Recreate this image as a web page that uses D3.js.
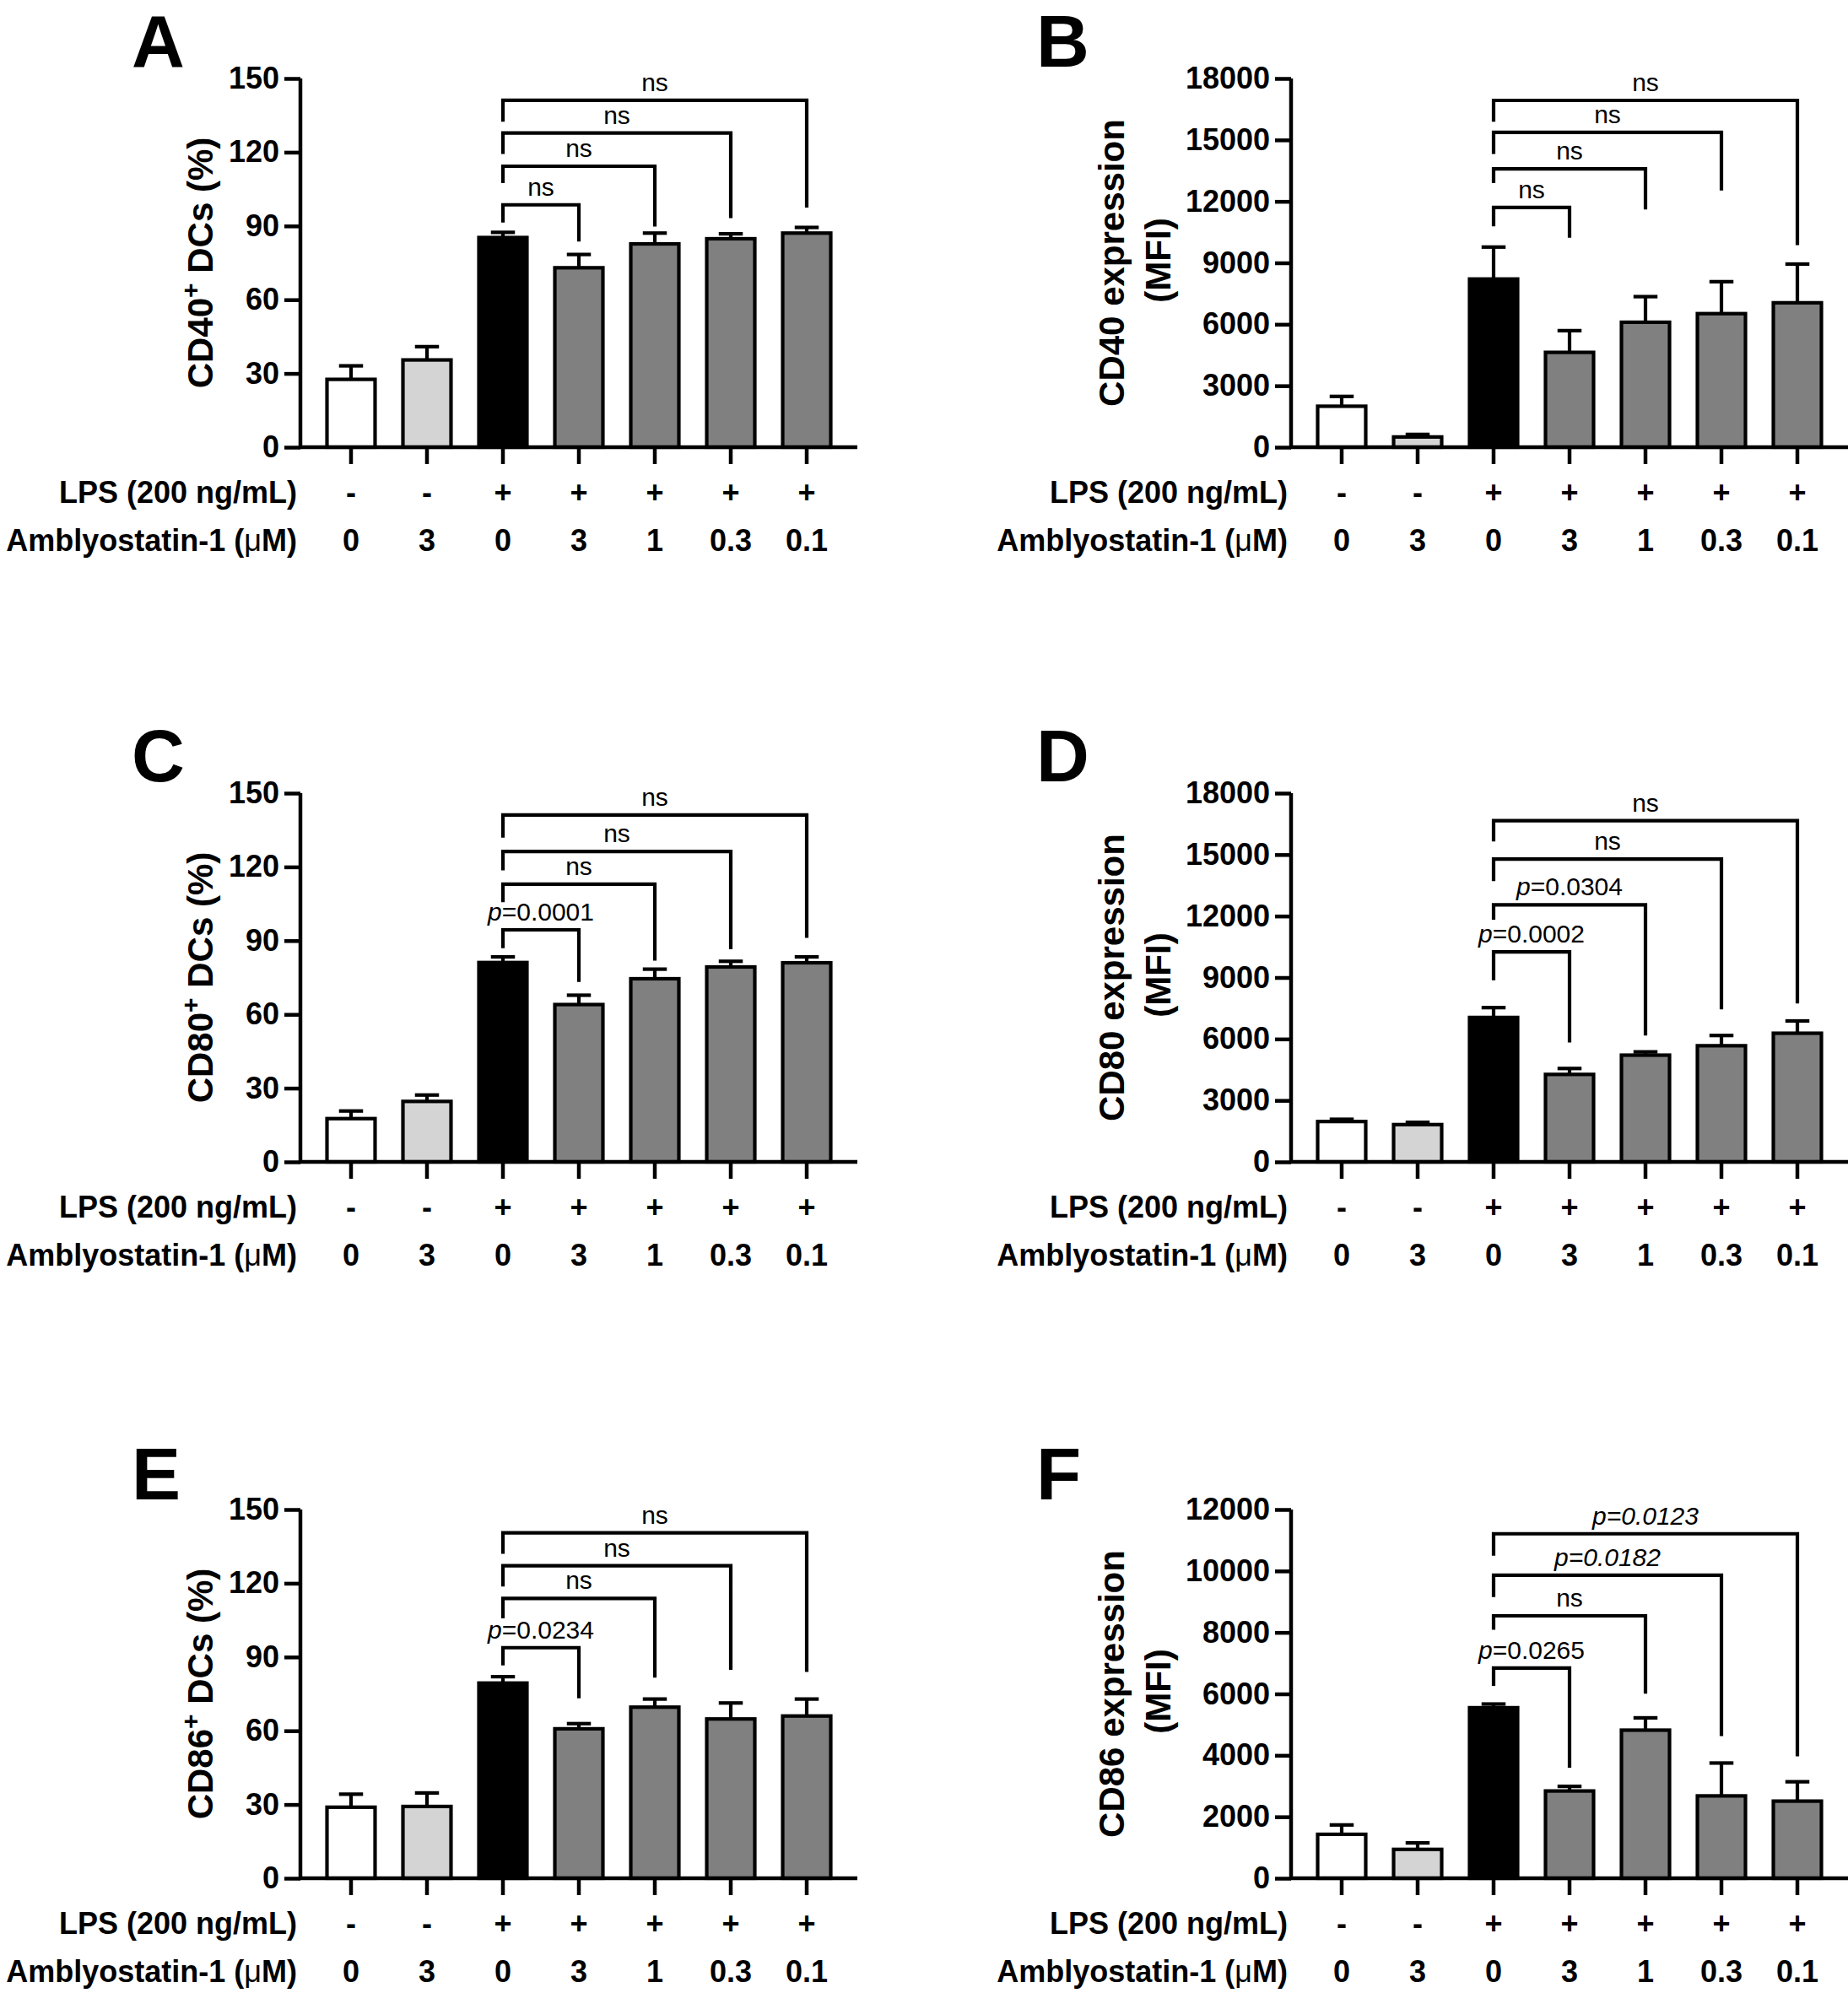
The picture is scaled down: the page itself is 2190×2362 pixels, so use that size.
<!DOCTYPE html>
<html>
<head>
<meta charset="utf-8">
<script src="https://cdn.jsdelivr.net/npm/d3@7/dist/d3.min.js"></script>
<style>
  body { margin: 0; background: #fff; }
  svg { display: block; }
</style>
</head>
<body>
<script>
// x groups (same for every panel)
const groups = ["g1", "g2", "g3", "g4", "g5", "g6", "g7"];
const lpsLabels = ["-", "-", "+", "+", "+", "+", "+"];
const amblyLabels = ["0", "3", "0", "3", "1", "0.3", "0.1"];
const barFills = ["#ffffff", "#d4d4d4", "#000000", "#808080", "#808080", "#808080", "#808080"];

// y ticks
const pctTicks = [0, 30, 60, 90, 120, 150];
const mfiTicks18 = [0, 3000, 6000, 9000, 12000, 15000, 18000];
const mfiTicks12 = [0, 2000, 4000, 6000, 8000, 10000, 12000];

// A: CD40+ DCs (%)
const cd40PctMean = [27.6, 35.5, 85.3, 73.0, 82.7, 84.8, 87.1];
const cd40PctErr = [33.1, 40.9, 87.4, 78.4, 87.1, 86.8, 89.4];
// B: CD40 MFI
const cd40MfiMean = [2000, 500, 8210, 4630, 6100, 6520, 7050];
const cd40MfiErr = [2480, 625, 9770, 5690, 7350, 8080, 8940];
// C: CD80+ DCs (%)
const cd80PctMean = [17.6, 24.6, 81.1, 64.0, 74.5, 79.3, 81.0];
const cd80PctErr = [20.7, 27.2, 83.4, 67.8, 78.4, 81.6, 83.4];
// D: CD80 MFI
const cd80MfiMean = [1970, 1820, 7050, 4270, 5210, 5670, 6280];
const cd80MfiErr = [2080, 1930, 7530, 4560, 5370, 6170, 6880];
// E: CD86+ DCs (%)
const cd86PctMean = [28.9, 29.2, 79.4, 60.8, 69.6, 64.8, 66.0];
const cd86PctErr = [34.2, 34.7, 82.0, 62.9, 72.9, 71.3, 72.9];
// F: CD86 MFI
const cd86MfiMean = [1430, 940, 5550, 2840, 4820, 2680, 2510];
const cd86MfiErr = [1735, 1150, 5670, 2990, 5220, 3750, 3140];

// comparison brackets vs group 3: [bracket y, left leg end, right leg end]
const bracketTargets = [3, 4, 5, 6];
const cd40PctBrackets = [[98.6, 91.4, 83.7], [114.3, 107.4, 89.8], [127.8, 119.3, 93.2], [141.1, 132.4, 97.5]];
const cd40MfiBrackets = [[11700, 10780, 10230], [13590, 12890, 11610], [15370, 14310, 12530], [16930, 15890, 9860]];
const cd80PctBrackets = [[94.4, 86.9, 73.2], [113.0, 105.6, 81.9], [126.3, 118.6, 86.5], [141.1, 131.9, 91.1]];
const cd80MfiBrackets = [[10250, 8870, 5830], [12550, 11820, 6170], [14780, 13710, 7450], [16660, 15640, 7730]];
const cd86PctBrackets = [[93.8, 86.6, 73.2], [113.8, 105.7, 81.6], [127.1, 118.7, 84.8], [140.5, 132.0, 83.9]];
const cd86MfiBrackets = [[6840, 6260, 3600], [8540, 8090, 6010], [9860, 9150, 4630], [11210, 10500, 3970]];

const cd40PctLabels = ["ns", "ns", "ns", "ns"];
const cd40MfiLabels = ["ns", "ns", "ns", "ns"];
const cd80PctLabels = ["p=0.0001", "ns", "ns", "ns"];
const cd80MfiLabels = ["p=0.0002", "p=0.0304", "ns", "ns"];
const cd86PctLabels = ["p=0.0234", "ns", "ns", "ns"];
const cd86MfiLabels = ["p=0.0265", "ns", "p=0.0182", "p=0.0123"];
const cd86MfiAllItalic = [false, false, true, true];

const W = 2190, H = 2362;
const font = "'Liberation Sans', Arial, Helvetica, sans-serif";

const svg = d3.select("body").append("svg")
  .attr("width", W)
  .attr("height", H)
  .style("font-family", font);

const colX = [356, 1530];
const rowY = [0, 847, 1696];
const plotW = 660, plotTop = 93, plotZero = 530;

function drawPanel(p) {
  const x0 = colX[p.col], oy = rowY[p.row];
  const g = svg.append("g");

  const x = d3.scaleBand().domain(groups).range([x0, x0 + plotW])
    .paddingInner(0.367).paddingOuter(0.35);
  const y = d3.scaleLinear().domain([0, p.max]).range([plotZero + oy, plotTop + oy]);
  const bw = x.bandwidth();
  const cx = i => x(groups[i]) + bw / 2;

  // panel letter
  g.append("text")
    .attr("x", p.col === 0 ? 156 : 1228)
    .attr("y", 79 + oy + (p.row === 2 ? 2 : 0))
    .attr("font-size", 87).attr("font-weight", "bold")
    .text(p.letter);

  // bars
  g.selectAll("rect.bar").data(p.mean).join("rect")
    .attr("class", "bar")
    .attr("x", (d, i) => x(groups[i]))
    .attr("y", d => y(d))
    .attr("width", bw)
    .attr("height", d => y(0) - y(d))
    .attr("fill", (d, i) => barFills[i])
    .attr("stroke", "#000").attr("stroke-width", 4.2);

  // error bars (upper only)
  const capW = bw * 0.5;
  g.selectAll("line.err").data(p.err).join("line")
    .attr("class", "err")
    .attr("x1", (d, i) => cx(i)).attr("x2", (d, i) => cx(i))
    .attr("y1", (d, i) => y(p.mean[i])).attr("y2", d => y(d))
    .attr("stroke", "#000").attr("stroke-width", 4.2);
  g.selectAll("line.cap").data(p.err).join("line")
    .attr("class", "cap")
    .attr("x1", (d, i) => cx(i) - capW / 2).attr("x2", (d, i) => cx(i) + capW / 2)
    .attr("y1", d => y(d)).attr("y2", d => y(d))
    .attr("stroke", "#000").attr("stroke-width", 4.2);

  // axes
  const yAxis = g.append("g")
    .attr("transform", `translate(${x0},0)`)
    .call(d3.axisLeft(y).tickValues(p.ticks).tickFormat(d3.format("d"))
      .tickSize(19).tickSizeOuter(0).tickPadding(6));
  const xAxis = g.append("g")
    .attr("transform", `translate(0,${y(0)})`)
    .call(d3.axisBottom(x).tickSize(20).tickSizeOuter(0).tickFormat(""));
  [yAxis, xAxis].forEach(a => {
    a.selectAll("path, line").attr("stroke", "#000").attr("stroke-width", 4.5);
    a.selectAll("text").attr("font-size", 36).attr("font-weight", "bold")
      .attr("font-family", font).attr("fill", "#000");
  });
  yAxis.select("path.domain").attr("d", `M0,${y(p.max)}V${y(0)}`);
  xAxis.select("path.domain").attr("d", `M${x0 - 2},0H${x0 + plotW}`);

  // y label
  const midY = (plotTop + plotZero) / 2 + oy;
  const lab = g.append("text")
    .attr("transform", `translate(${p.col === 0 ? x0 - 104 : x0 - 198},${midY}) rotate(-90)`)
    .attr("text-anchor", "middle")
    .attr("font-size", 42).attr("font-weight", "bold");
  if (p.sup) {
    lab.append("tspan").text(p.yLabel[0]);
    lab.append("tspan").attr("dy", -16).attr("font-size", 30).text("+");
    lab.append("tspan").attr("dy", 16).text(p.yLabel[1]);
  } else {
    lab.text(p.yLabel[0]);
    g.append("text")
      .attr("transform", `translate(${x0 - 143},${midY - 3}) rotate(-90)`)
      .attr("text-anchor", "middle")
      .attr("font-size", 42).attr("font-weight", "bold")
      .text(p.yLabel[1]);
  }

  // condition rows
  const rowBase1 = y(0) + 66, rowBase2 = y(0) + 123;
  g.append("text").attr("x", x0 - 4).attr("y", rowBase1)
    .attr("text-anchor", "end").attr("font-size", 36).attr("font-weight", "bold")
    .text("LPS (200 ng/mL)");
  const amb = g.append("text").attr("x", x0 - 4).attr("y", rowBase2)
    .attr("text-anchor", "end").attr("font-size", 36).attr("font-weight", "bold");
  amb.append("tspan").text("Amblyostatin-1 (");
  amb.append("tspan").attr("font-weight", "normal").text("\u03BC");
  amb.append("tspan").text("M)");
  g.selectAll("text.lps").data(lpsLabels).join("text")
    .attr("class", "lps")
    .attr("x", (d, i) => cx(i)).attr("y", rowBase1)
    .attr("text-anchor", "middle").attr("font-size", 36).attr("font-weight", "bold")
    .text(d => d);
  g.selectAll("text.amb").data(amblyLabels).join("text")
    .attr("class", "amb")
    .attr("x", (d, i) => cx(i)).attr("y", rowBase2)
    .attr("text-anchor", "middle").attr("font-size", 36).attr("font-weight", "bold")
    .text(d => d);

  // significance brackets
  const xs = cx(2);
  p.brackets.forEach((b, k) => {
    const xt = cx(bracketTargets[k]);
    g.append("path")
      .attr("d", `M${xs},${y(b[1])}V${y(b[0])}H${xt}V${y(b[2])}`)
      .attr("fill", "none").attr("stroke", "#000").attr("stroke-width", 4.2);
    const t = g.append("text")
      .attr("x", (xs + xt) / 2).attr("y", y(b[0]) - 11)
      .attr("text-anchor", "middle").attr("font-size", 30);
    const s = p.labels[k];
    if (s === "ns") {
      t.text(s);
    } else if (p.allItalic && p.allItalic[k]) {
      t.attr("font-style", "italic").text(s);
    } else {
      t.append("tspan").attr("font-style", "italic").text(s.slice(0, 1));
      t.append("tspan").text(s.slice(1));
    }
  });
}

drawPanel({ letter: "A", col: 0, row: 0, max: 150, ticks: pctTicks, sup: true,
  yLabel: ["CD40", " DCs (%)"], mean: cd40PctMean, err: cd40PctErr,
  brackets: cd40PctBrackets, labels: cd40PctLabels });
drawPanel({ letter: "B", col: 1, row: 0, max: 18000, ticks: mfiTicks18, sup: false,
  yLabel: ["CD40 expression", "(MFI)"], mean: cd40MfiMean, err: cd40MfiErr,
  brackets: cd40MfiBrackets, labels: cd40MfiLabels });
drawPanel({ letter: "C", col: 0, row: 1, max: 150, ticks: pctTicks, sup: true,
  yLabel: ["CD80", " DCs (%)"], mean: cd80PctMean, err: cd80PctErr,
  brackets: cd80PctBrackets, labels: cd80PctLabels });
drawPanel({ letter: "D", col: 1, row: 1, max: 18000, ticks: mfiTicks18, sup: false,
  yLabel: ["CD80 expression", "(MFI)"], mean: cd80MfiMean, err: cd80MfiErr,
  brackets: cd80MfiBrackets, labels: cd80MfiLabels });
drawPanel({ letter: "E", col: 0, row: 2, max: 150, ticks: pctTicks, sup: true,
  yLabel: ["CD86", " DCs (%)"], mean: cd86PctMean, err: cd86PctErr,
  brackets: cd86PctBrackets, labels: cd86PctLabels });
drawPanel({ letter: "F", col: 1, row: 2, max: 12000, ticks: mfiTicks12, sup: false,
  yLabel: ["CD86 expression", "(MFI)"], mean: cd86MfiMean, err: cd86MfiErr,
  brackets: cd86MfiBrackets, labels: cd86MfiLabels, allItalic: cd86MfiAllItalic });
</script>
</body>
</html>
